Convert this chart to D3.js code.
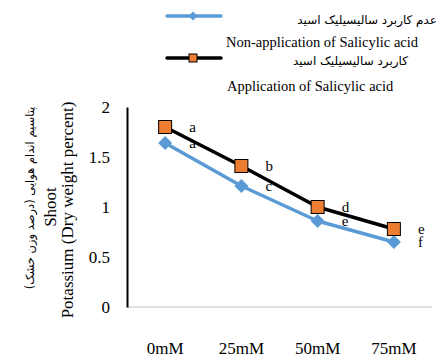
<!DOCTYPE html>
<html><head><meta charset="utf-8">
<script src="https://cdn.jsdelivr.net/npm/d3@7"></script>
<style>
html,body{margin:0;padding:0;background:#fff;}
svg{display:block;}
</style>
</head><body>
<svg id="chart" width="439" height="359"></svg>
<script>
const categories = ["0mM", "25mM", "50mM", "75mM"];
const nonApplication = [1.64, 1.21, 0.86, 0.65];
const application = [1.80, 1.41, 1.00, 0.78];
const nonApplicationLetters = ["a", "c", "e", "f"];
const applicationLetters = ["a", "b", "d", "e"];
const yTicks = [0, 0.5, 1, 1.5, 2];
const legendPersian = ["عدم کاربرد سالیسیلیک اسید", "کاربرد سالیسیلیک اسید"];
const legendEnglish = ["Non-application of Salicylic acid", "Application of Salicylic acid"];
const yTitlePersian = "\u200Eپتاسیم اندام هوایی (درصد وزن خشک)";
const yTitleLines = ["Shoot", "Potassium (Dry weight percent)"];

const serif = "'Liberation Serif','Times New Roman',serif";
const persianFont = "'DejaVu Sans',sans-serif";
const blue = "#5B9BD5", orange = "#ED7D31";

const svg = d3.select("#chart");
const x = d3.scaleBand().domain(categories).range([127, 432]);
const y = d3.scaleLinear().domain([0, 2]).range([307, 107]);
const cx = d => x(d) + x.bandwidth() / 2;

// horizontal axis line (gray)
svg.append("line").attr("x1", 127).attr("x2", 432).attr("y1", y(0)).attr("y2", y(0))
  .attr("stroke", "#d9d9d9").attr("stroke-width", 1.5);
// y axis
const yAxis = d3.axisLeft(y).tickValues(yTicks).tickSize(0).tickPadding(17)
  .tickFormat(d => d3.format("")(d));
const gy = svg.append("g").attr("transform", "translate(127,0)").call(yAxis);
gy.select(".domain").attr("stroke", "#000").attr("stroke-width", 2);
gy.selectAll("text").attr("font-family", serif).attr("font-size", 17).attr("fill", "#000");

// x axis labels
const xAxis = d3.axisBottom(x).tickSize(0).tickPadding(35);
const gx = svg.append("g").attr("transform", `translate(0,${y(0)})`).call(xAxis);
gx.select(".domain").remove();
gx.selectAll("text").attr("font-family", serif).attr("font-size", 17).attr("fill", "#000");

// y title
const yt = svg.append("g");
yt.append("text").attr("transform", `translate(34,198) rotate(-90)`)
  .attr("text-anchor", "middle").attr("font-family", persianFont).attr("font-size", 11.5)
  .attr("direction", "ltr")
  .attr("fill", "#000").text(yTitlePersian);
yt.append("text").attr("transform", `translate(56,${y(1)}) rotate(-90)`)
  .attr("text-anchor", "middle").attr("font-family", serif).attr("font-size", 17)
  .attr("fill", "#000").text(yTitleLines[0]);
yt.append("text").attr("transform", `translate(73,${y(1) + 3}) rotate(-90)`)
  .attr("text-anchor", "middle").attr("font-family", serif).attr("font-size", 17)
  .attr("fill", "#000").text(yTitleLines[1]);

// letters
function letters(vals, labs) {
  svg.append("g").selectAll("text").data(categories).join("text")
    .attr("x", d => cx(d) + 24).attr("y", (d, i) => y(vals[i]) + 5)
    .attr("font-family", serif).attr("font-size", 15).attr("fill", "#000")
    .text((d, i) => labs[i]);
}
letters(application, applicationLetters);
letters(nonApplication, nonApplicationLetters);

const line = d3.line().x(d => cx(d[0])).y(d => y(d[1]));
const diamond = r => `M0,${-r}L${r},0L0,${r}L${-r},0Z`;

// blue series
svg.append("path").datum(categories.map((c, i) => [c, nonApplication[i]]))
  .attr("d", line).attr("fill", "none").attr("stroke", blue).attr("stroke-width", 3.5)
  .attr("stroke-linejoin", "round");
svg.append("g").selectAll("path").data(categories).join("path")
  .attr("transform", (d, i) => `translate(${cx(d)},${y(nonApplication[i])})`)
  .attr("d", diamond(7)).attr("fill", blue);

// black series
svg.append("path").datum(categories.map((c, i) => [c, application[i]]))
  .attr("d", line).attr("fill", "none").attr("stroke", "#000").attr("stroke-width", 3.5)
  .attr("stroke-linejoin", "round");
svg.append("g").selectAll("rect").data(categories).join("rect")
  .attr("x", d => cx(d) - 6.5).attr("y", (d, i) => y(application[i]) - 6.5)
  .attr("width", 13).attr("height", 13).attr("fill", orange)
  .attr("stroke", "#000").attr("stroke-width", 1);

// legend
const lg = svg.append("g");
lg.append("line").attr("x1", 167).attr("x2", 221).attr("y1", 16).attr("y2", 16)
  .attr("stroke", blue).attr("stroke-width", 3.5).attr("stroke-linecap", "round");
lg.append("path").attr("transform", "translate(193,16)").attr("d", diamond(4.5)).attr("fill", blue);
lg.append("line").attr("x1", 167).attr("x2", 221).attr("y1", 58).attr("y2", 58)
  .attr("stroke", "#000").attr("stroke-width", 3.5).attr("stroke-linecap", "round");
lg.append("rect").attr("x", 189).attr("y", 54).attr("width", 8).attr("height", 8)
  .attr("fill", orange).attr("stroke", "#000").attr("stroke-width", 1);

lg.append("text").attr("x", 437).attr("y", 24).attr("text-anchor", "end")
  .attr("font-family", persianFont).attr("font-size", 12).attr("fill", "#000")
  .text(legendPersian[0]);
lg.append("text").attr("x", 226).attr("y", 47)
  .attr("font-family", serif).attr("font-size", 14.5).attr("fill", "#000")
  .text(legendEnglish[0]);
lg.append("text").attr("x", 408).attr("y", 65).attr("text-anchor", "end")
  .attr("font-family", persianFont).attr("font-size", 12).attr("fill", "#000")
  .text(legendPersian[1]);
lg.append("text").attr("x", 227).attr("y", 91)
  .attr("font-family", serif).attr("font-size", 14.5).attr("fill", "#000")
  .text(legendEnglish[1]);
</script>
</body></html>
